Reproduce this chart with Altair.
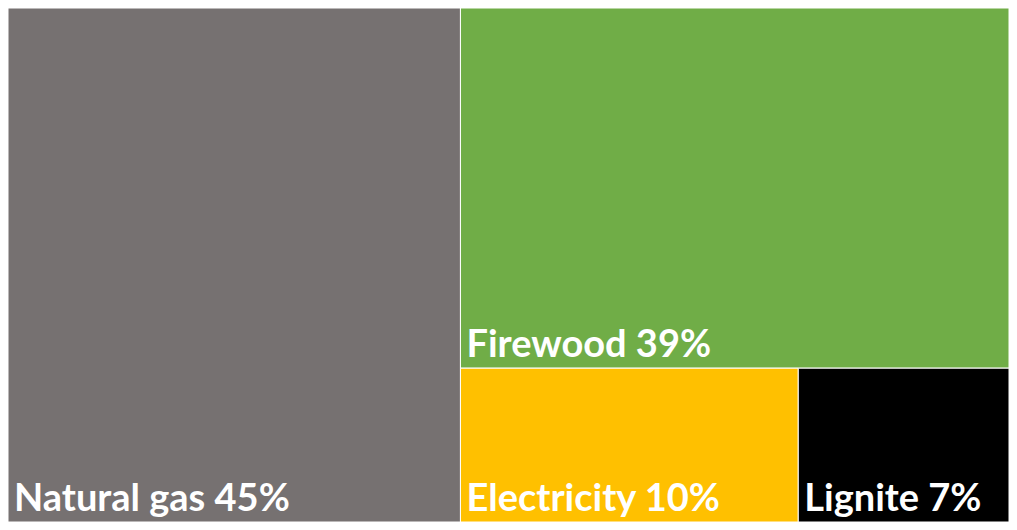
import altair as alt
import pandas as pd

# Data
categories = ["Natural gas", "Firewood", "Electricity", "Lignite"]
shares = [45.2, 38.4, 10.1, 6.3]          # area shares (measured)
labels = ["45%", "39%", "10%", "7%"]      # printed percentages
colors = ["#767171", "#70AD47", "#FFC000", "#000000"]

# Treemap layout (alternating slice / dice), in units of 0..100 on each axis
total = sum(shares)
rows = []
x0, y0, x1, y1 = 0.0, 0.0, 100.0, 100.0
remaining = total
for i, (c, v) in enumerate(zip(categories, shares)):
    frac = v / remaining
    if i == len(categories) - 1:
        rx0, rx1, ry0, ry1 = x0, x1, y0, y1
    elif i % 2 == 0:  # vertical slice (column)
        w = (x1 - x0) * frac
        rx0, rx1, ry0, ry1 = x0, x0 + w, y0, y1
        x0 = x0 + w
    else:  # horizontal slice (row on top)
        h = (y1 - y0) * frac
        rx0, rx1, ry0, ry1 = x0, x1, y0, y0 + h
        y0 = y0 + h
    remaining -= v
    rows.append(dict(cat=c, x0=rx0, x1=rx1, y0=ry0, y1=ry1,
                     label=f"{c} {labels[i]}"))

df = pd.DataFrame(rows)

xs = alt.Scale(domain=[0, 100], nice=False, zero=False)
ys = alt.Scale(domain=[0, 100], nice=False, zero=False, reverse=True)
col = alt.Scale(domain=categories, range=colors)

base = alt.Chart(df)

rects = base.mark_rect(stroke="white", strokeWidth=1).encode(
    x=alt.X("x0:Q", scale=xs, axis=None),
    x2="x1:Q",
    y=alt.Y("y0:Q", scale=ys, axis=None),
    y2="y1:Q",
    color=alt.Color("cat:N", scale=col, legend=None),
)

text = base.mark_text(
    align="left", baseline="alphabetic", dx=6, dy=-11,
    font="Lato", fontWeight="bold", fontSize=38, color="white",
).encode(
    x=alt.X("x0:Q", scale=xs, axis=None),
    y=alt.Y("y1:Q", scale=ys, axis=None),
    text="label:N",
)

chart = (rects + text).properties(
    width=1001, height=514, padding=0, autosize=alt.AutoSizeParams(type="none"),
    background="white",
).configure_view(stroke=None)

chart.save("out.html", embed_options={"renderer": "svg", "actions": False})
